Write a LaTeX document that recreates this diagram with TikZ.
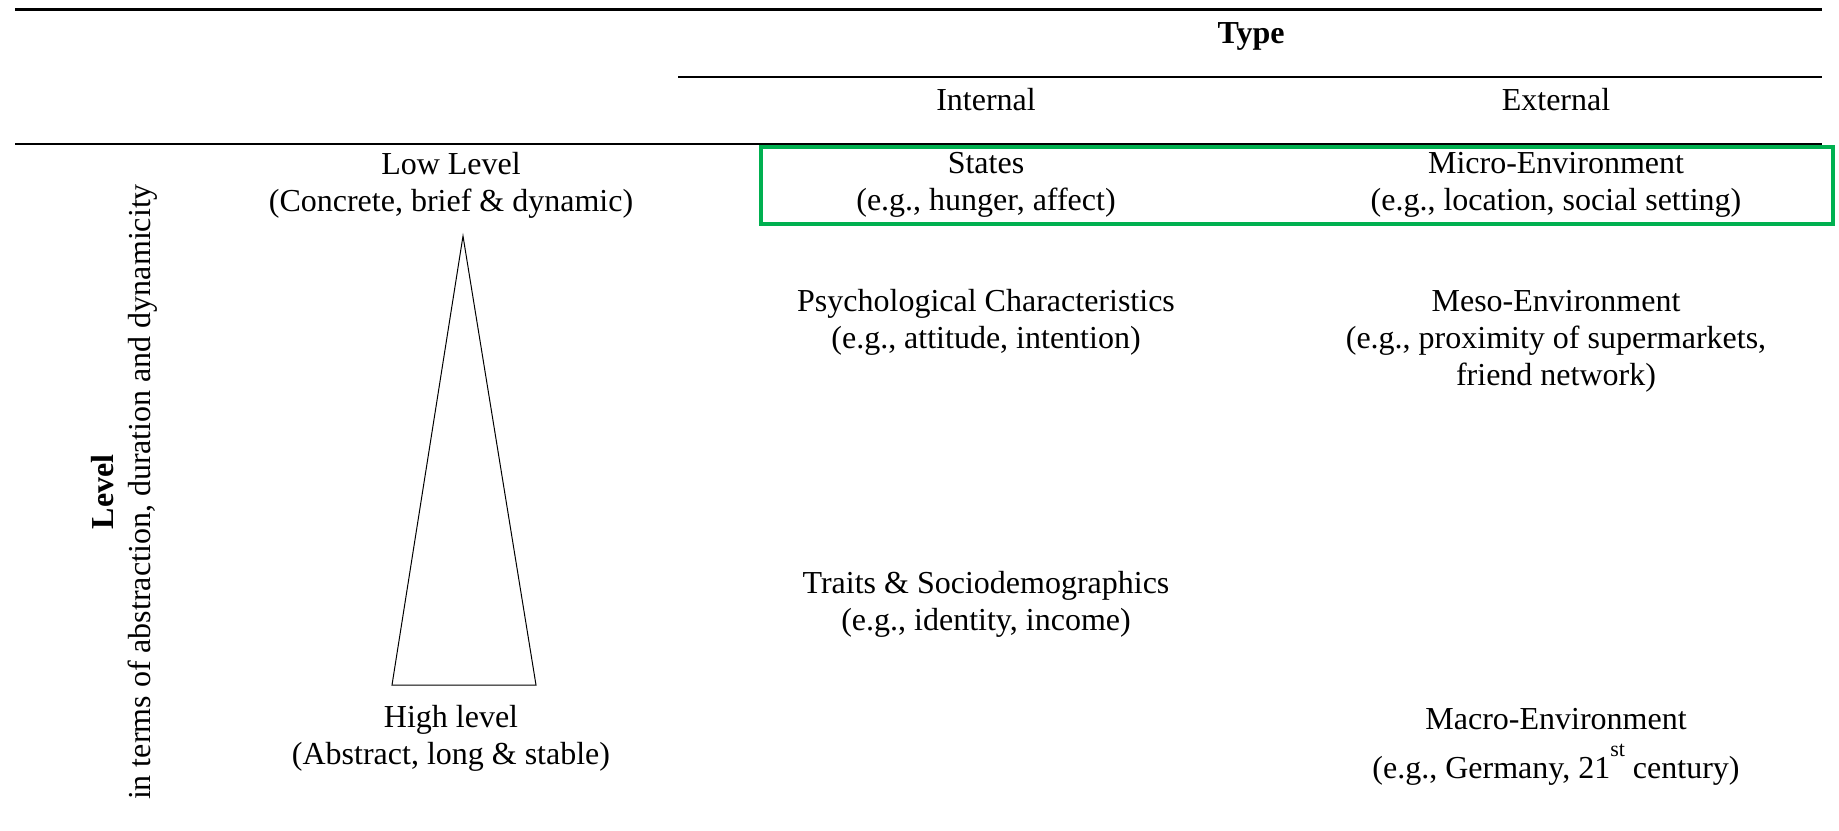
\documentclass[tikz,border=0pt]{standalone}
\usepackage{fontspec}
\setmainfont{Liberation Serif}
\usetikzlibrary{positioning}
\definecolor{boxgreen}{RGB}{0,176,80}

\begin{document}
\begin{tikzpicture}[x=0.5pt, y=-0.5pt,
    cell/.style={align=center, inner sep=0pt, font=\fontsize{16}{18.5}\selectfont},
    head/.style={cell, font=\bfseries\fontsize{16}{18.5}\selectfont}]
    \useasboundingbox (0,0) rectangle (1839,830);

    % table rules
    \draw [line width=1.5pt] (15,9.5) -- (1822,9.5);
    \draw [line width=1pt] (678,77) -- (1822,77);
    \draw [line width=1.2pt] (15,144) -- (1822,144);

    % header
    \node [head] (typehd) at (1251,36) {Type};
    \node [cell] (internal) at (986,100) {Internal};
    \node [cell] (external) at (1556,100) {External};

    % level axis
    \node [cell, rotate=90] (levelax) at (124,492) {\textbf{Level}\\in terms of abstraction, duration and dynamicity};
    \node [cell] (lowlvl) at (451,185) {Low Level\\(Concrete, brief \& dynamic)};
    \node [cell] (highlvl) at (451,738) {High level\\(Abstract, long \& stable)};
    \coordinate (apex) at (463,236);
    \coordinate (baseL) at (392,685);
    \coordinate (baseR) at (536,685);
    \draw [line width=0.5pt] (apex) -- (baseR) -- (baseL) -- cycle;

    % internal column
    \node [cell] (states) at (986,185) {States\\(e.g., hunger, affect)};
    \node [cell] (psych) at (986,322) {Psychological Characteristics\\(e.g., attitude, intention)};
    \node [cell] (traits) at (986,604) {Traits \& Sociodemographics\\(e.g., identity, income)};

    % external column
    \node [cell] (micro) at (1556,185) {Micro-Environment\\(e.g., location, social setting)};
    \node [cell] (meso) at (1556,341) {Meso-Environment\\(e.g., proximity of supermarkets,\\friend network)};
    \node [cell] (macro) at (1556,747) {Macro-Environment\\[6pt](e.g., Germany, 21\raisebox{11pt}{\fontsize{11}{11}\selectfont st} century)};

    % highlighted row
    \draw [boxgreen, line width=2pt] (761,147) rectangle (1833,224);
\end{tikzpicture}
\end{document}
